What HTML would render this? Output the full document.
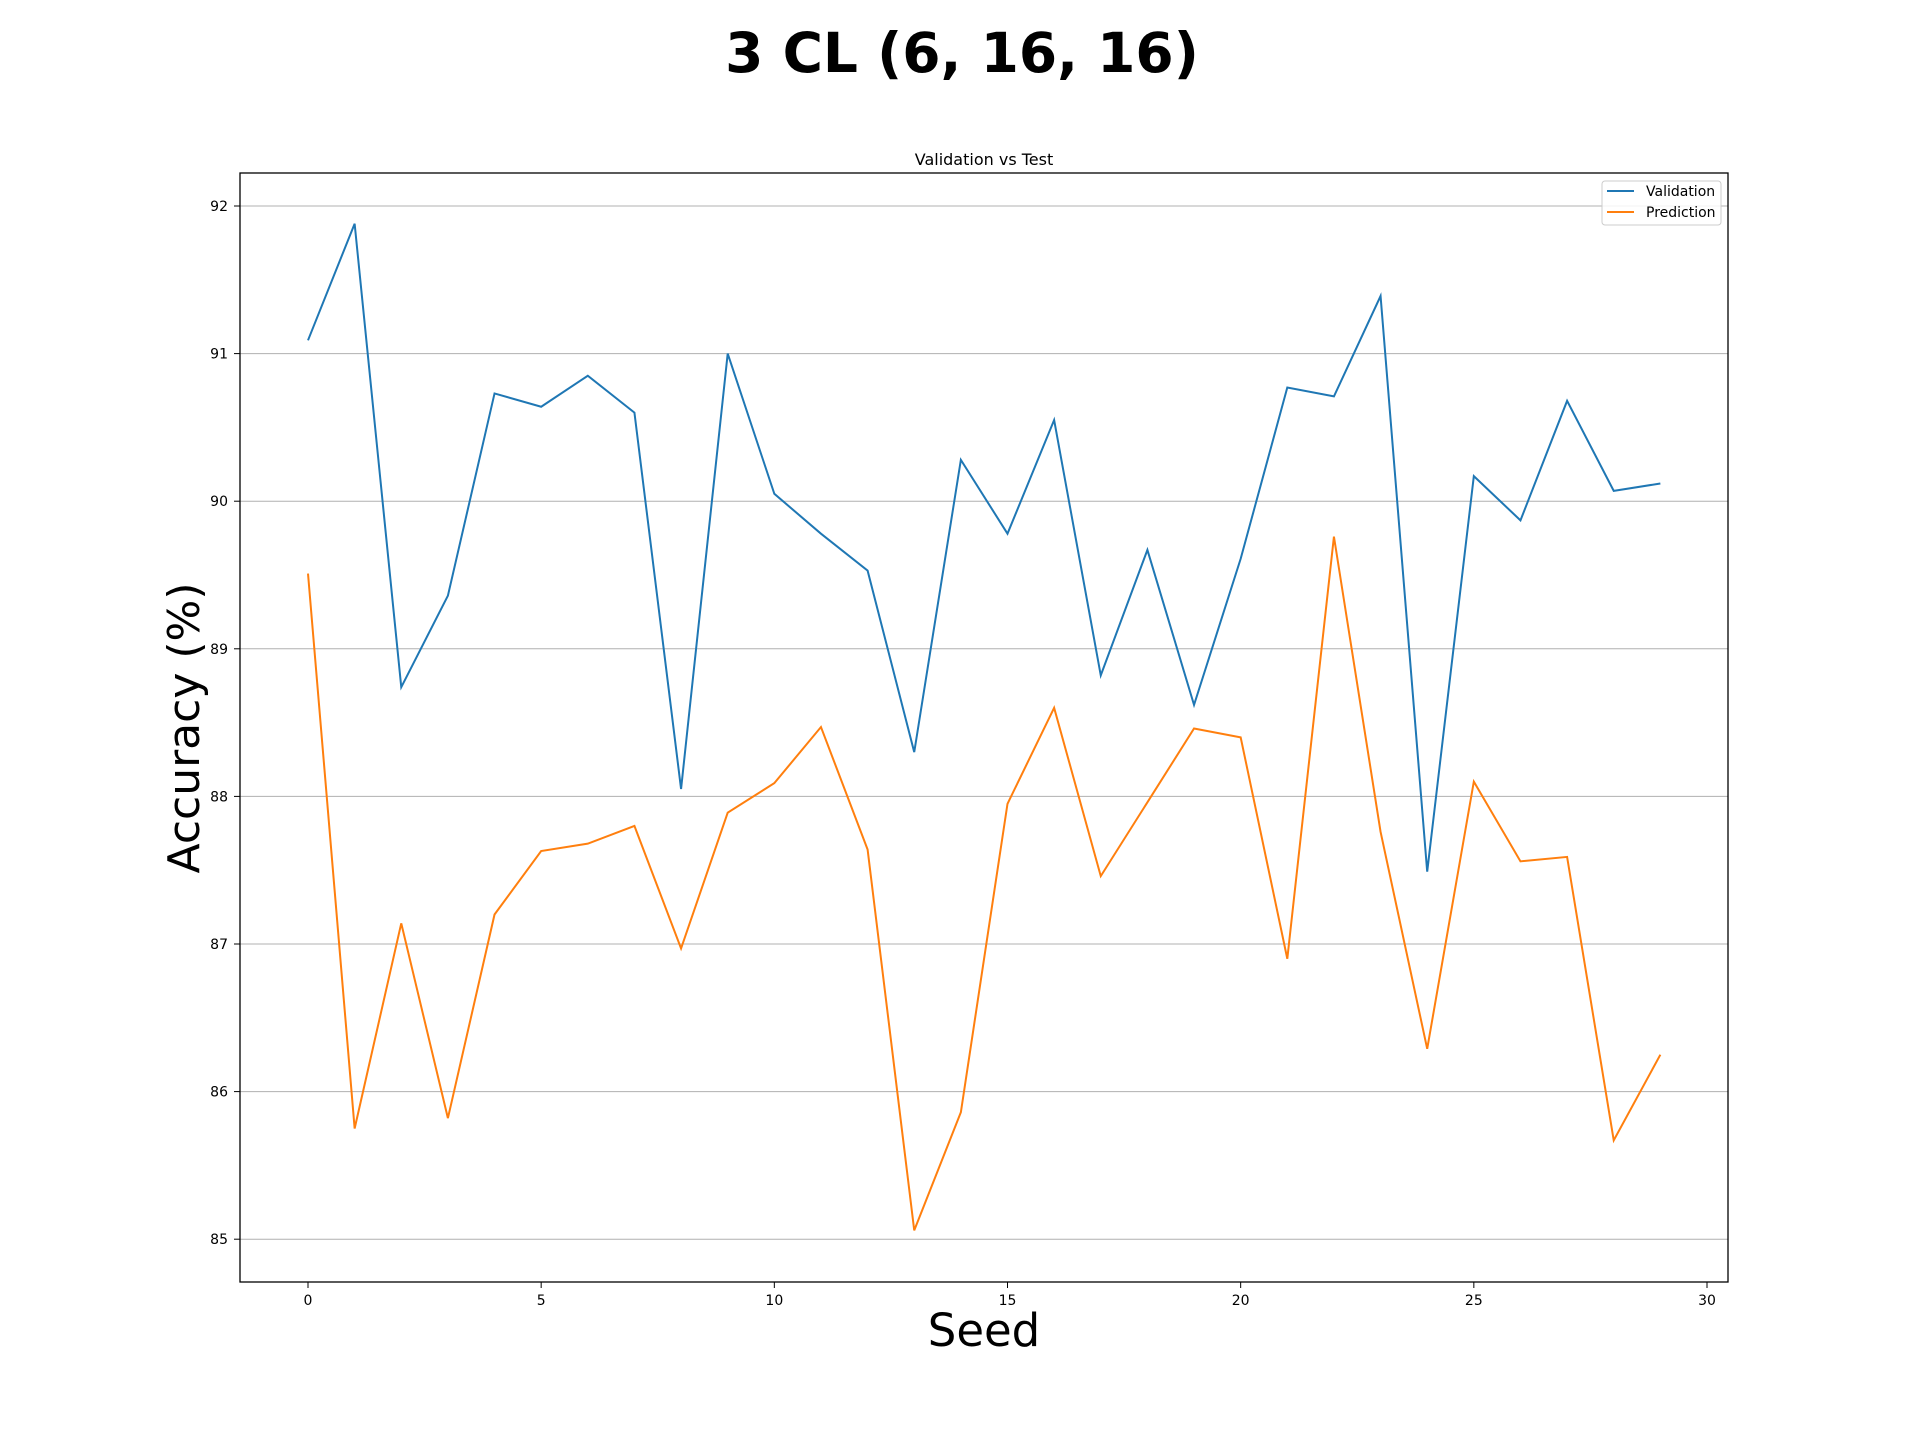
<!DOCTYPE html>
<html><head><meta charset="utf-8"><style>
body{margin:0;background:#fff}
svg text{font-family:"DejaVu Sans","Liberation Sans",sans-serif}
</style></head><body>
<svg id="chart" width="1920" height="1440" xmlns="http://www.w3.org/2000/svg">
<rect width="1920" height="1440" fill="#fff"/>
<text x="962" y="72" text-anchor="middle" font-size="55" font-weight="bold">3 CL (6, 16, 16)</text>
<text x="984" y="165" text-anchor="middle" font-size="16">Validation vs Test</text>
<text x="984" y="1346" text-anchor="middle" font-size="45">Seed</text>
<text x="0" y="0" transform="translate(199,728) rotate(-90)" text-anchor="middle" font-size="44">Accuracy (%)</text>
<g id="grid"></g><g id="ticks"></g><g id="series"></g>
<rect x="240" y="173" width="1488" height="1109" fill="none" stroke="#000" stroke-width="1.3"/>
<g>
<rect x="1602" y="181" width="119" height="44" rx="3" fill="#fff" fill-opacity="0.85" stroke="#ccc"/>
<line x1="1607" y1="191" x2="1634" y2="191" stroke="#1f77b4" stroke-width="2"/>
<text x="1646" y="196" font-size="14">Validation</text>
<line x1="1607" y1="212" x2="1634" y2="212" stroke="#ff7f0e" stroke-width="2"/>
<text x="1646" y="217" font-size="14">Prediction</text>
</g>
</svg>
<script>
const seeds=[0,1,2,3,4,5,6,7,8,9,10,11,12,13,14,15,16,17,18,19,20,21,22,23,24,25,26,27,28,29];
const validation=[91.09,91.88,88.74,89.36,90.73,90.64,90.85,90.60,88.05,91.0,90.05,89.78,89.53,88.30,90.28,89.78,90.55,88.82,89.67,88.62,89.61,90.77,90.71,91.39,87.49,90.17,89.87,90.68,90.07,90.12];
const prediction=[89.51,85.75,87.14,85.82,87.20,87.63,87.68,87.80,86.97,87.89,88.09,88.47,87.64,85.06,85.86,87.95,88.60,87.46,87.96,88.46,88.40,86.90,89.76,87.76,86.29,88.10,87.56,87.59,85.67,86.25];
const xTicks=[0,5,10,15,20,25,30];
const yTicks=[85,86,87,88,89,90,91,92];
const NS='http://www.w3.org/2000/svg';
const X=v=>308+v*(1399/30);
const Y=v=>206+(92-v)*147.6;
function mk(t,a,p){const e=document.createElementNS(NS,t);for(const k in a)e.setAttribute(k,a[k]);p.appendChild(e);return e;}
const grid=document.getElementById('grid'),ticks=document.getElementById('ticks'),ser=document.getElementById('series');
yTicks.forEach(v=>{
 const g=mk('line',{x1:240,x2:1728,y1:Y(v),y2:Y(v),stroke:'#b0b0b0','stroke-width':1},grid);
 
 
 mk('line',{x1:234,x2:240,y1:Y(v),y2:Y(v),stroke:'#000'},ticks);
 const t=mk('text',{x:228,y:Y(v)+5,'text-anchor':'end','font-size':14},ticks);t.textContent=v;
 
 
});
xTicks.forEach(v=>{
 mk('line',{x1:X(v),x2:X(v),y1:1282,y2:1288,stroke:'#000'},ticks);
 const t=mk('text',{x:X(v),y:1305,'text-anchor':'middle','font-size':14},ticks);t.textContent=v;
 
 
});
function line(vals,col,name){
 const p=mk('polyline',{points:vals.map((v,i)=>X(seeds[i])+','+Y(v)).join(' '),fill:'none',stroke:col,'stroke-width':2,'stroke-linejoin':'miter'},ser);
 
 
}
line(validation,'#1f77b4','validation-line');
line(prediction,'#ff7f0e','prediction-line');
</script>
</body></html>
